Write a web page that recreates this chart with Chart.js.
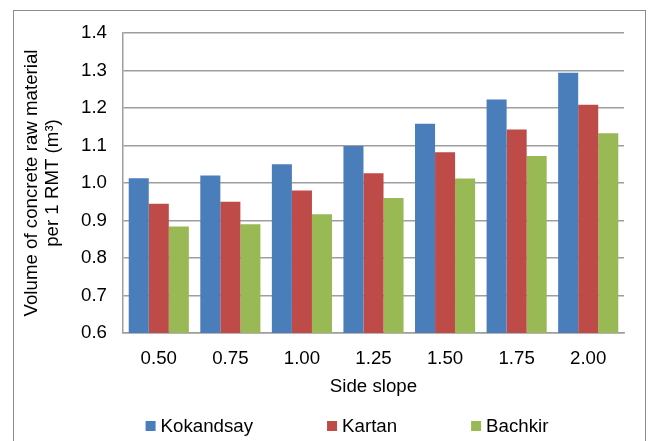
<!DOCTYPE html>
<html>
<head>
<meta charset="utf-8">
<script src="https://cdn.jsdelivr.net/npm/chart.js@4/dist/chart.umd.min.js"></script>
<style>
  html, body { margin: 0; padding: 0; background: #fff; }
  #wrap { position: relative; width: 648px; height: 441px; }
</style>
</head>
<body>
<div id="wrap"><canvas id="c" width="648" height="441"></canvas></div>
<script>
const categories = ['0.50', '0.75', '1.00', '1.25', '1.50', '1.75', '2.00'];
const seriesNames = ['Kokandsay', 'Kartan', 'Bachkir'];
const kokandsay = [1.013, 1.020, 1.050, 1.099, 1.158, 1.223, 1.294];
const kartan    = [0.945, 0.950, 0.980, 1.026, 1.082, 1.143, 1.209];
const bachkir   = [0.884, 0.890, 0.917, 0.960, 1.012, 1.072, 1.133];
const seriesColors = ['#4A7EBB', '#BE4B48', '#98B954'];
const yTitle = ['Volume of concrete raw material', 'per 1 RMT (m\u00B3)'];
const xTitle = 'Side slope';

const FONT = 'Liberation Sans, Arial, sans-serif';
const FS = 18.7;
const GRID = '#9E9E9E';

const frame = {
  id: 'frame',
  afterDraw(chart) {
    const ctx = chart.ctx;
    ctx.save();
    ctx.strokeStyle = '#8C8C8C';
    ctx.lineWidth = 1;
    ctx.strokeRect(13.5, 10.5, 632, 440);
    ctx.restore();
  }
};

const customLegend = {
  id: 'customLegend',
  afterDraw(chart) {
    const ctx = chart.ctx;
    ctx.save();
    ctx.font = FS + 'px ' + FONT;
    ctx.textBaseline = 'middle';
    ctx.textAlign = 'left';
    const box = 10, gapText = 5, gapItem = 74, cy = 426;
    const items = chart.data.datasets.map(ds => ({ text: ds.label, color: ds.backgroundColor, w: box + gapText + ctx.measureText(ds.label).width }));
    const total = items.reduce((s, it) => s + it.w, 0) + gapItem * (items.length - 1);
    let x = 347 - total / 2;
    items.forEach(it => {
      ctx.fillStyle = it.color;
      ctx.fillRect(x, cy - box / 2, box, box);
      ctx.fillStyle = '#000';
      ctx.fillText(it.text, x + box + gapText, cy + 1);
      x += it.w + gapItem;
    });
    ctx.restore();
  }
};

new Chart(document.getElementById('c'), {
  type: 'bar',
  data: {
    labels: categories,
    datasets: [
      { label: seriesNames[0], data: kokandsay, backgroundColor: seriesColors[0] },
      { label: seriesNames[1], data: kartan, backgroundColor: seriesColors[1] },
      { label: seriesNames[2], data: bachkir, backgroundColor: seriesColors[2] }
    ]
  },
  options: {
    responsive: false,
    animation: false,
    devicePixelRatio: 1,
    categoryPercentage: 0.84,
    barPercentage: 1.0,
    layout: { padding: { left: 12, right: 24, top: 33, bottom: 43 } },
    plugins: {
      legend: { display: false },
      tooltip: { enabled: false }
    },
    scales: {
      x: {
        grid: { display: false, drawTicks: false },
        border: { display: true, color: GRID, width: 1.5 },
        ticks: { font: { family: FONT, size: FS }, color: '#000', padding: 15 },
        title: { display: true, text: xTitle, color: '#000', font: { family: FONT, size: FS }, padding: { top: 0, bottom: 0 } },
        afterFit(scale) { scale.height = 65; }
      },
      y: {
        min: 0.6,
        max: 1.4,
        grid: { color: GRID, lineWidth: 1.5, drawTicks: false },
        border: { display: true, color: GRID, width: 1.5 },
        ticks: {
          stepSize: 0.1,
          font: { family: FONT, size: FS },
          color: '#000',
          padding: 16,
          callback: v => Number(v).toFixed(1)
        },
        title: { display: true, text: yTitle, color: '#000', font: { family: FONT, size: FS, lineHeight: 1.1 }, padding: { top: 10, bottom: 0 } },
        afterFit(scale) { scale.width = 111; }
      }
    }
  },
  plugins: [frame, customLegend]
});
</script>
</body>
</html>
